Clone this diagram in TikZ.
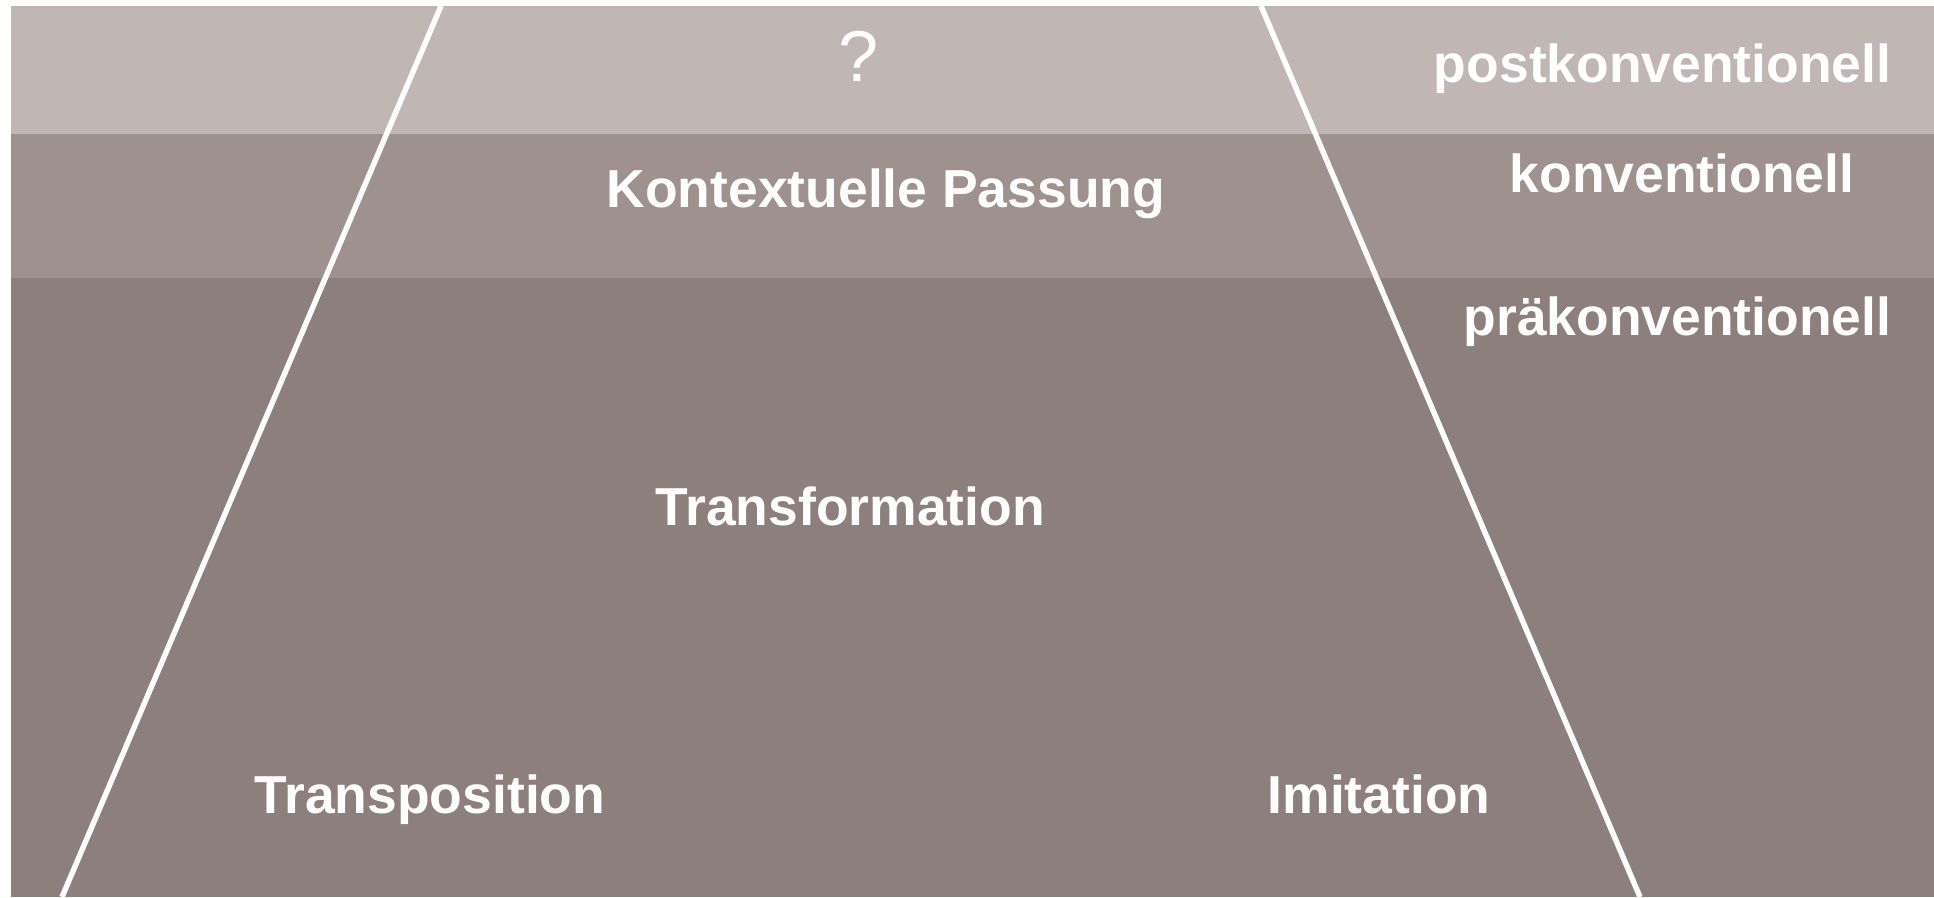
\documentclass[tikz,border=0pt]{standalone}
\usepackage{fontspec}
\setmainfont{Liberation Sans}
\definecolor{bandtop}{HTML}{C0B6B3}
\definecolor{bandmid}{HTML}{9E918E}
\definecolor{bandlow}{HTML}{8D807C}
\begin{document}
\begin{tikzpicture}[x=0.01cm,y=-0.01cm,
  label/.style={text=white,inner sep=0pt,font=\fontsize{15.2pt}{18pt}\selectfont\bfseries},
  qlabel/.style={text=white,inner sep=0pt,font=\fontsize{20.5pt}{24pt}\selectfont},
  edge/.style={white,line width=1.55pt}]
  \useasboundingbox (0,0) rectangle (1934,897);
  \fill[white] (0,0) rectangle (1934,897);
  % three horizontal bands
  \fill[bandtop] (11,6) rectangle (1934,134);
  \fill[bandmid] (11,134) rectangle (1934,278);
  \fill[bandlow] (11,278) rectangle (1934,897);
  % slanted edges of the trapezoid
  \coordinate (lt) at (441,6);
  \coordinate (lb) at (62,897);
  \coordinate (rt) at (1261,6);
  \coordinate (rb) at (1640,897);
  \draw[edge] (lt) -- (lb);
  \draw[edge] (rt) -- (rb);
  % level labels
  \node[qlabel,anchor=base] (q) at (859,81) {?};
  \node[label,anchor=base east] (post) at (1892,82) {postkonventionell};
  \node[label,anchor=base east] (konv) at (1855,192) {konventionell};
  \node[label,anchor=base east] (prae) at (1892,335) {präkonventionell};
  \node[label,anchor=base west] (kp) at (606,207) {Kontextuelle Passung};
  \node[label,anchor=base west] (trf) at (655,525) {Transformation};
  \node[label,anchor=base west] (trp) at (254,813) {Transposition};
  \node[label,anchor=base west] (imi) at (1267,813) {Imitation};
\end{tikzpicture}
\end{document}
